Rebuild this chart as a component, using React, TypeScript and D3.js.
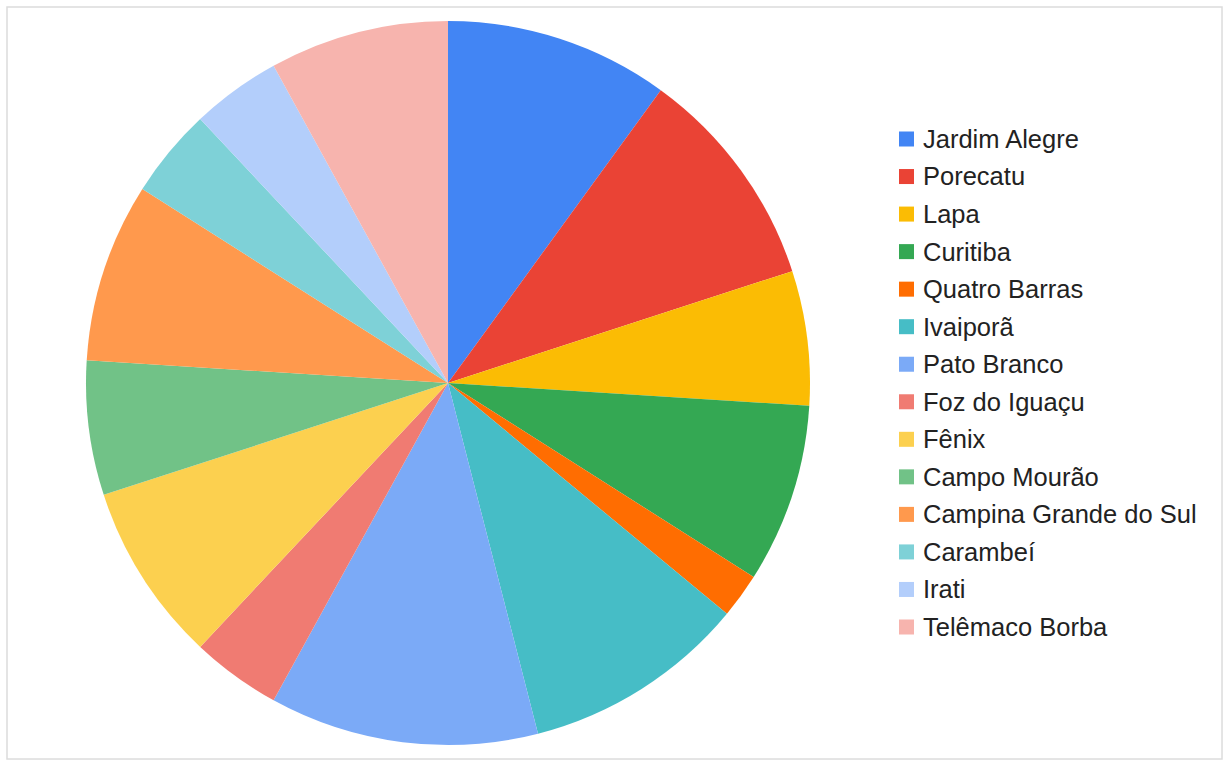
import React from "react";
import * as d3 from "d3";

const categories = [
  "Jardim Alegre", "Porecatu", "Lapa", "Curitiba", "Quatro Barras", "Ivaiporã",
  "Pato Branco", "Foz do Iguaçu", "Fênix", "Campo Mourão", "Campina Grande do Sul",
  "Carambeí", "Irati", "Telêmaco Borba",
];
const values = [5, 5, 3, 4, 1, 5, 6, 2, 4, 3, 4, 2, 2, 4];
const colors = [
  "#4285F4", "#EA4335", "#FBBC04", "#34A853", "#FF6D01", "#46BDC6",
  "#7BAAF7", "#F07B72", "#FCD04F", "#71C287", "#FF994D", "#7ED1D7",
  "#B3CEFB", "#F7B4AE",
];

export default function App() {
  const W = 1223, H = 760;
  const cx = 448, cy = 383, r = 362;
  const pie = d3.pie<number>().sort(null).value((d) => d);
  const arcs = pie(values);
  const arc = d3.arc<d3.PieArcDatum<number>>().innerRadius(0).outerRadius(r);
  const legendY = d3.scalePoint<string>().domain(categories).range([139, 627]);
  return (
    <svg width={W} height={H} style={{ position: "absolute", left: 0, top: 0 }}>
      <rect x={0} y={0} width={W} height={H} fill="#fff" />
      <rect x={7} y={7} width={1215} height={752} fill="none" stroke="#dcdcdc" strokeWidth={1.5} />
      <g transform={`translate(${cx},${cy})`}>
        {arcs.map((a, i) => (
          <path key={i} d={arc(a) || ""} fill={colors[i]} />
        ))}
      </g>
      <g fontFamily="'Liberation Sans', Arial, sans-serif" fontSize={25.5} fill="#222">
        {categories.map((c, i) => (
          <g key={c} transform={`translate(0,${legendY(c)})`}>
            <rect x={899} y={-7.5} width={15} height={15} fill={colors[i]} />
            <text x={923} y={0} dy="0.35em">{c}</text>
          </g>
        ))}
      </g>
    </svg>
  );
}
